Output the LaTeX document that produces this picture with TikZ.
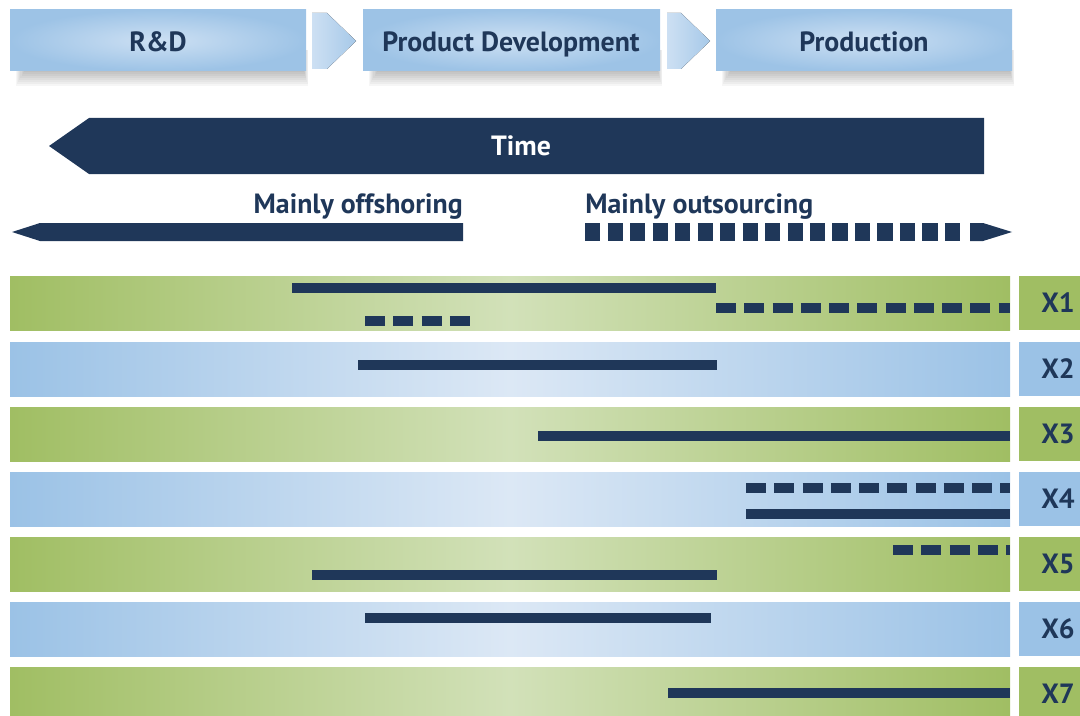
\documentclass[tikz,border=0pt]{standalone}
\usepackage{fontspec}
\setmainfont{PT Sans}

\definecolor{navy}{RGB}{31,55,89}
\definecolor{grnedge}{RGB}{160,190,99}
\definecolor{grnmid}{RGB}{210,225,185}
\definecolor{bluedge}{RGB}{155,194,230}
\definecolor{blumid}{RGB}{220,232,245}
\definecolor{hdredge}{RGB}{157,195,230}
\definecolor{hdrmid}{RGB}{205,224,243}

\begin{document}
\begin{tikzpicture}[x=0.025cm, y=-0.025cm,
        font=\bfseries\fontsize{19.8}{22}\selectfont,
        txt/.style={text=navy, anchor=base, inner sep=0pt},
        hdr/.style={inner color=hdrmid, outer color=hdredge},
        grnrow/.style={left color=grnedge, right color=grnedge, middle color=grnmid},
        blurow/.style={left color=bluedge, right color=bluedge, middle color=blumid},
        bar/.style={navy, line width=7.1pt},
        dashbar/.style={navy, line width=7.1pt, dash pattern=on 14.2pt off 5.9pt}]
    \useasboundingbox (0,0) rectangle (1080,716);

    % process steps
        \foreach \xa/\xb in {10/306, 363/660, 716/1012}
            \foreach \i in {0,...,7}
                \fill[black, opacity=0.035] (\xa+14-\i*1.2, 50) rectangle (\xb-2+\i*0.6, 72+\i*2);
        \fill[hdr] (10,10) rectangle (306,71);
        \fill[hdr] (363,10) rectangle (660,71);
        \fill[hdr] (716,10) rectangle (1012,71);
        \fill[left color=hdrmid, right color=hdredge!80!hdrmid]
            (312,13) -- (327,13) -- (356,41) -- (327,69) -- (312,69) -- cycle;
        \fill[left color=hdrmid, right color=hdredge!80!hdrmid]
            (667,13) -- (681,13) -- (710,41) -- (681,69) -- (667,69) -- cycle;
        \node[txt] (rd) at (158,52) {R\&D};
        \node[txt] (pd) at (511,52) {Product Development};
        \node[txt] (prod) at (864,52) {Production};

    % time axis
        \fill[navy] (49,146) -- (89,118) -- (984,118) -- (984,174) -- (89,174) -- cycle;
        \node[txt, text=white] (time) at (521,155) {Time};

        \node[txt, anchor=base east] (offsh) at (463,213) {Mainly offshoring};
        \fill[navy] (12,232) -- (40,223) -- (463,223) -- (463,241) -- (40,241) -- cycle;
        \node[txt, anchor=base west] (outs) at (585,213) {Mainly outsourcing};
        \draw[navy, line width=12.4pt, dash pattern=on 11pt off 5pt] (585,232) -- (963,232);
        \fill[navy] (970,223) -- (983,223) -- (1012,232) -- (983,241) -- (970,241) -- cycle;

    % rows
        \foreach \n/\y/\kind in {1/276/grn, 2/342/blu, 3/407/grn, 4/472/blu, 5/537/grn, 6/602/blu, 7/667/grn} {
            \fill[\kind row] (10,\y) rectangle (1010,\y+54);
            \fill[\kind edge] (1019,\y) rectangle (1080,\y+54);
            \node[txt] (x\n) at (1058,\y+36) {X\n};
        }

        \draw[bar] (292,288) -- (716,288);
        \draw[dashbar] (365,321) -- (470,321);
        \draw[dashbar] (716,308) -- (1010,308);

        \draw[bar] (358,365) -- (717,365);

        \draw[bar] (538,436) -- (1010,436);

        \draw[dashbar] (746,488) -- (1010,488);
        \draw[bar] (746,514) -- (1010,514);

        \draw[dashbar] (893,550) -- (1010,550);
        \draw[bar] (312,575) -- (717,575);

        \draw[bar] (365,618) -- (711,618);

        \draw[bar] (668,693) -- (1010,693);
\end{tikzpicture}
\end{document}
